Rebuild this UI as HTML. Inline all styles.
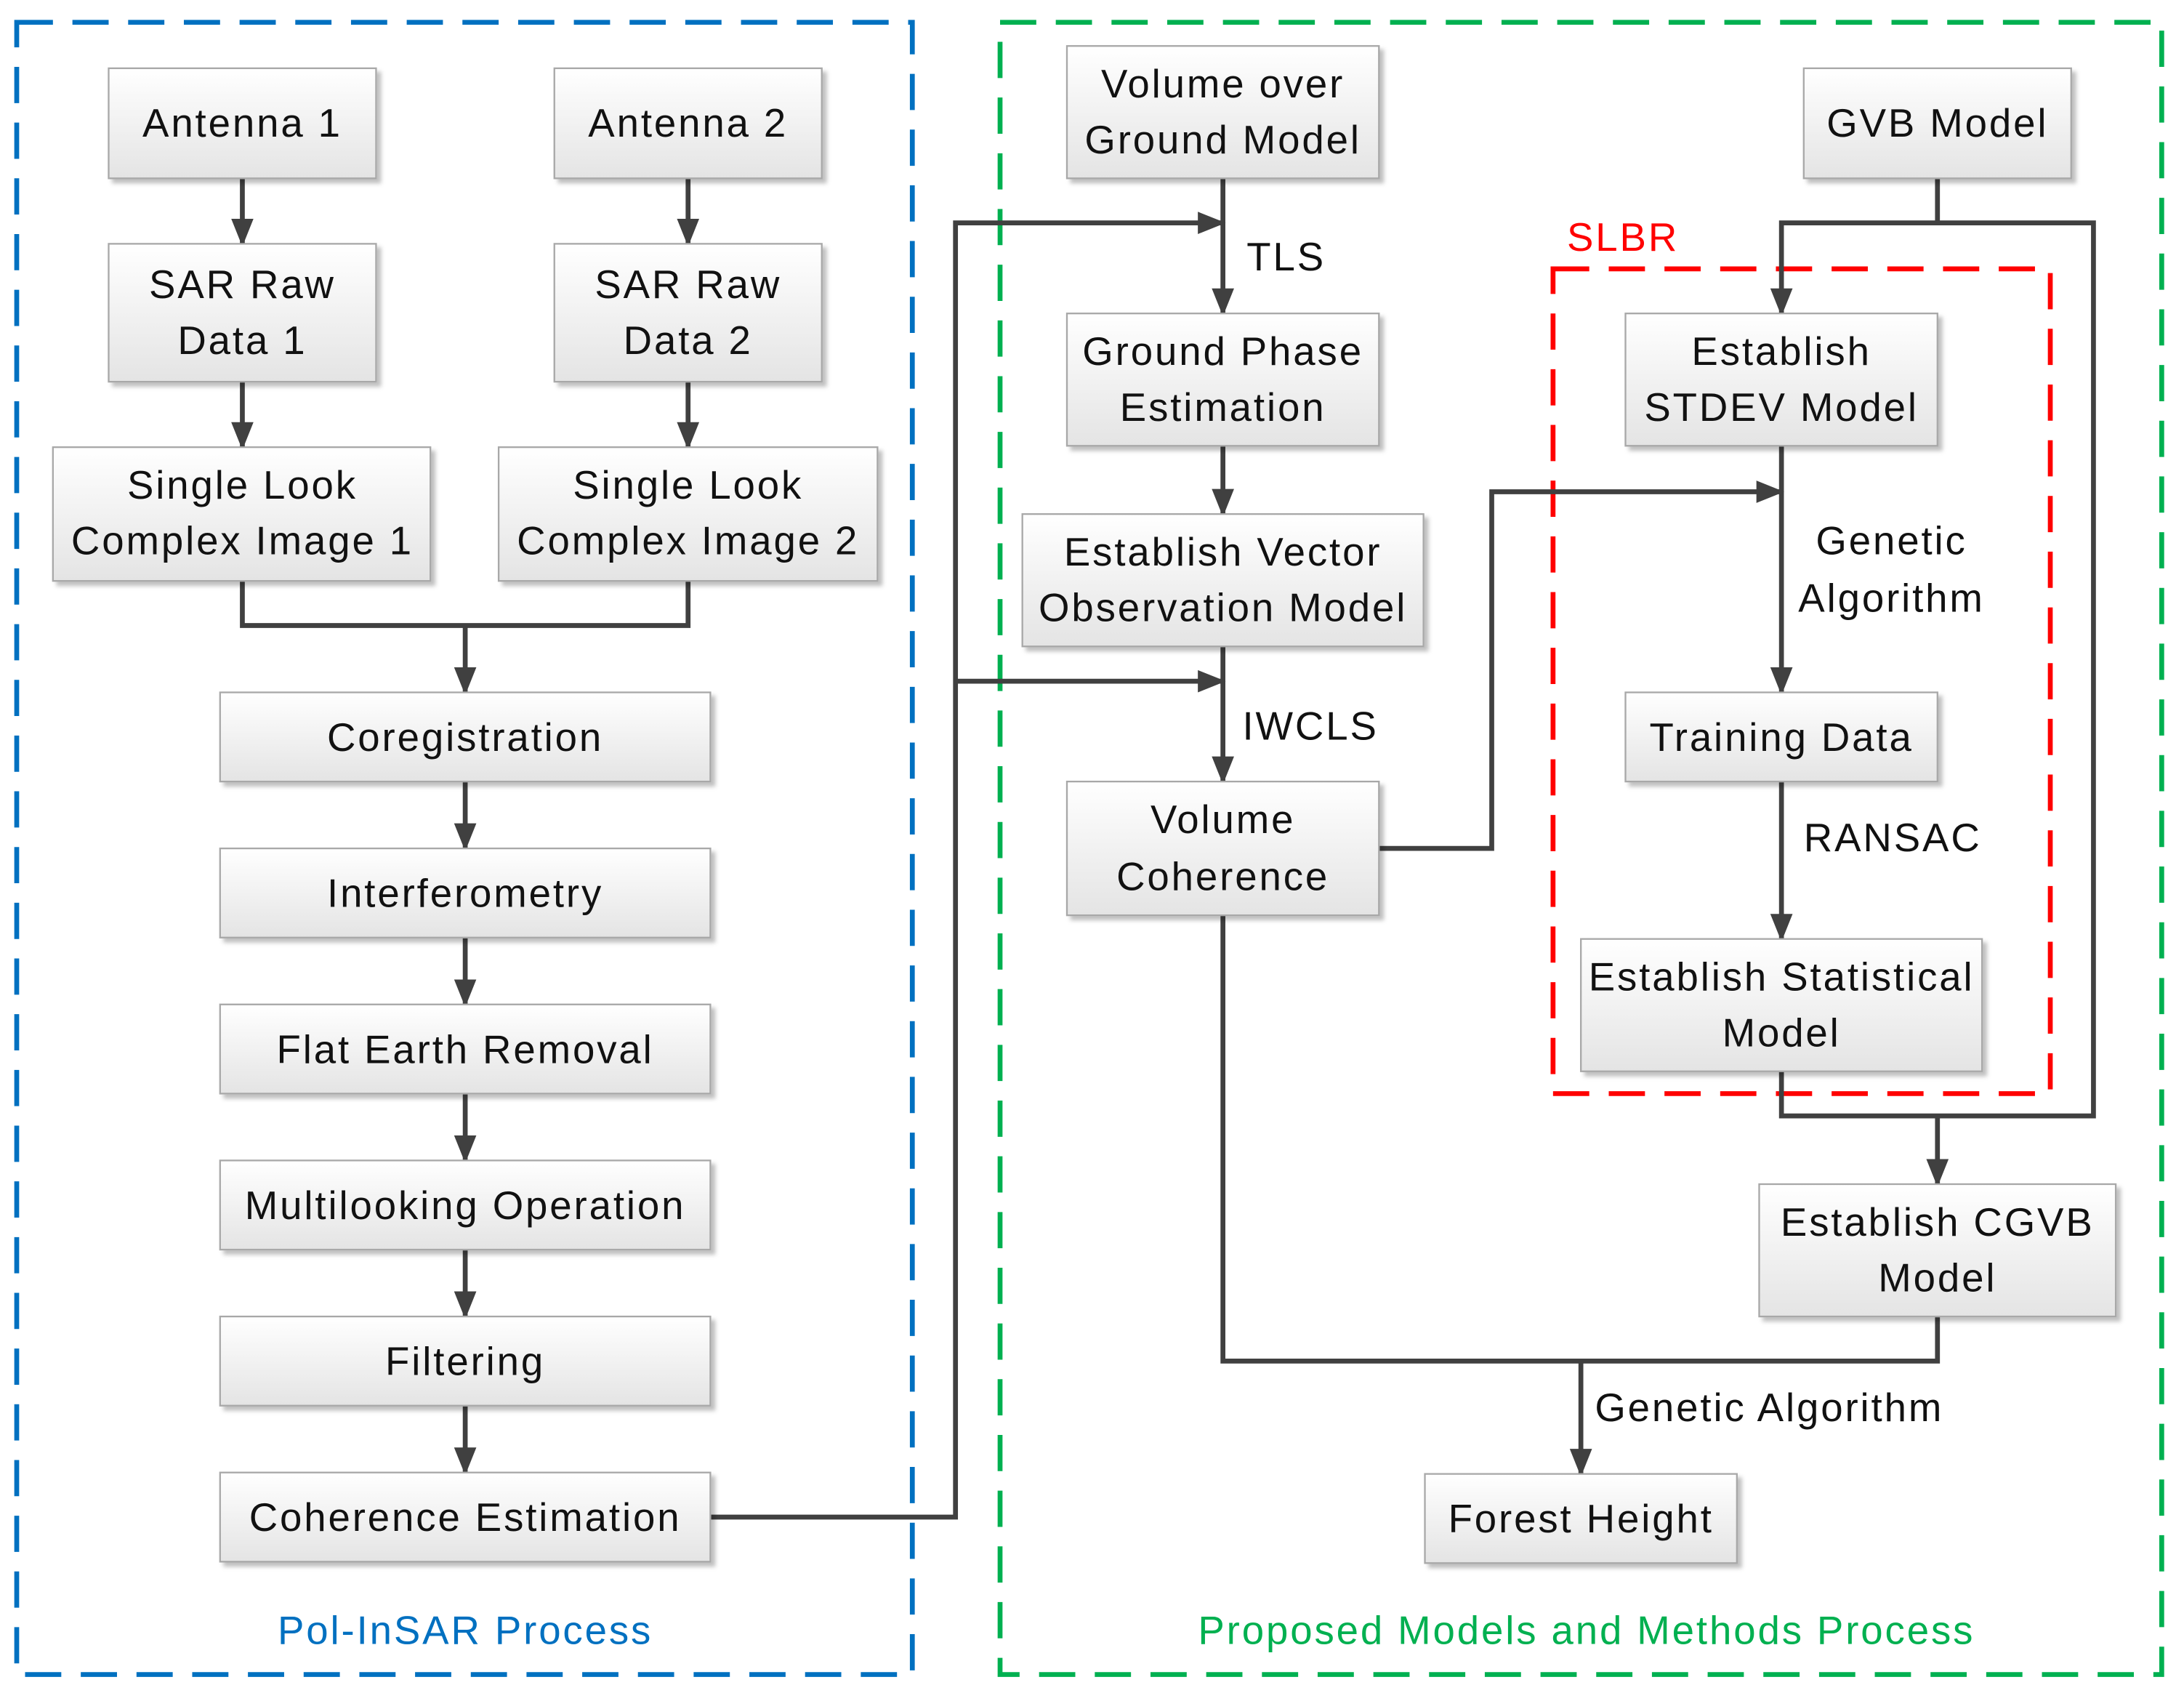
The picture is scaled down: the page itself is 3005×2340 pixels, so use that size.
<!DOCTYPE html>
<html><head><meta charset="utf-8"><style>
html,body{margin:0;padding:0;background:#fff}
svg{display:block}
text{font-family:"Liberation Sans",sans-serif;font-size:28.5px;letter-spacing:1.5px;fill:#111}
</style></head><body>
<svg width="3005" height="2340" viewBox="0 0 1568 1221" xmlns="http://www.w3.org/2000/svg">
<defs>
<linearGradient id="g" x1="0" y1="0" x2="0" y2="1"><stop offset="0" stop-color="#ffffff"/><stop offset="1" stop-color="#e4e4e4"/></linearGradient>
<filter id="s" x="-10%" y="-10%" width="130%" height="130%"><feDropShadow dx="3" dy="3" stdDeviation="1.5" flood-color="#000" flood-opacity="0.25"/></filter>
<marker id="A" markerWidth="20" markerHeight="20" refX="18" refY="10" orient="auto" markerUnits="userSpaceOnUse"><path d="M0,2 L20,10 L0,18 z" fill="#404040"/></marker>
</defs>
<rect x="12" y="16" width="643" height="1186" fill="none" stroke="#0070c0" stroke-width="3.5" stroke-dasharray="26,14"/>
<rect x="718" y="16" width="834" height="1186" fill="none" stroke="#00b050" stroke-width="3.5" stroke-dasharray="26,14"/>
<rect x="1115" y="193" width="357" height="592" fill="none" stroke="#ff0000" stroke-width="3.5" stroke-dasharray="26,14"/>
<text x="1125" y="180" style="fill:#ff0000">SLBR</text>
<text x="334" y="1180" text-anchor="middle" style="fill:#0070c0">Pol-InSAR Process</text>
<text x="1139" y="1180" text-anchor="middle" style="fill:#00b050">Proposed Models and Methods Process</text>

<g stroke="#404040" stroke-width="3.5" fill="none">
<path d="M174,128 V175" marker-end="url(#A)"/>
<path d="M494,128 V175" marker-end="url(#A)"/>
<path d="M174,274 V321" marker-end="url(#A)"/>
<path d="M494,274 V321" marker-end="url(#A)"/>
<path d="M174,417 V449 H494 V417"/>
<path d="M334,449 V497" marker-end="url(#A)"/>
<path d="M334,561 V609" marker-end="url(#A)"/>
<path d="M334,673 V721" marker-end="url(#A)"/>
<path d="M334,785 V833" marker-end="url(#A)"/>
<path d="M334,897 V945" marker-end="url(#A)"/>
<path d="M334,1009 V1057" marker-end="url(#A)"/>
<path d="M510,1089 H686 V160 H878" marker-end="url(#A)"/>
<path d="M686,489 H878" marker-end="url(#A)"/>
<path d="M878,128 V225" marker-end="url(#A)"/>
<path d="M878,320 V369" marker-end="url(#A)"/>
<path d="M878,464 V561" marker-end="url(#A)"/>
<path d="M990,609 H1071 V353 H1279" marker-end="url(#A)"/>
<path d="M1279,320 V497" marker-end="url(#A)"/>
<path d="M1279,561 V674" marker-end="url(#A)"/>
<path d="M1391,128 V160 H1279 V225" marker-end="url(#A)"/>
<path d="M1391,160 H1503 V801 H1279 V769"/>
<path d="M1391,801 V850" marker-end="url(#A)"/>
<path d="M878,657 V977 H1391 V945"/>
<path d="M1135,977 V1058" marker-end="url(#A)"/>
</g>
<text x="895" y="194">TLS</text>
<text x="892" y="531">IWCLS</text>
<text x="1358" y="398" text-anchor="middle">Genetic</text>
<text x="1358" y="439" text-anchor="middle">Algorithm</text>
<text x="1295" y="611">RANSAC</text>
<text x="1145" y="1020">Genetic Algorithm</text>

<g fill="url(#g)" stroke="#a8a8a8" stroke-width="1.2" filter="url(#s)">
<rect x="78" y="49" width="192" height="79"/>
<rect x="398" y="49" width="192" height="79"/>
<rect x="78" y="175" width="192" height="99"/>
<rect x="398" y="175" width="192" height="99"/>
<rect x="38" y="321" width="271" height="96"/>
<rect x="358" y="321" width="272" height="96"/>
<rect x="158" y="497" width="352" height="64"/>
<rect x="158" y="609" width="352" height="64"/>
<rect x="158" y="721" width="352" height="64"/>
<rect x="158" y="833" width="352" height="64"/>
<rect x="158" y="945" width="352" height="64"/>
<rect x="158" y="1057" width="352" height="64"/>
<rect x="766" y="33" width="224" height="95"/>
<rect x="766" y="225" width="224" height="95"/>
<rect x="734" y="369" width="288" height="95"/>
<rect x="766" y="561" width="224" height="96"/>
<rect x="1295" y="49" width="192" height="79"/>
<rect x="1167" y="225" width="224" height="95"/>
<rect x="1167" y="497" width="224" height="64"/>
<rect x="1135" y="674" width="288" height="95"/>
<rect x="1263" y="850" width="256" height="95"/>
<rect x="1023" y="1058" width="224" height="64"/>
</g>
<g text-anchor="middle">
<text x="174" y="98">Antenna 1</text>
<text x="494" y="98">Antenna 2</text>
<text x="174" y="214">SAR Raw</text><text x="174" y="254">Data 1</text>
<text x="494" y="214">SAR Raw</text><text x="494" y="254">Data 2</text>
<text x="174" y="358">Single Look</text><text x="174" y="398">Complex Image 1</text>
<text x="494" y="358">Single Look</text><text x="494" y="398">Complex Image 2</text>
<text x="334" y="539">Coregistration</text>
<text x="334" y="651">Interferometry</text>
<text x="334" y="763">Flat Earth Removal</text>
<text x="334" y="875">Multilooking Operation</text>
<text x="334" y="987">Filtering</text>
<text x="334" y="1099">Coherence Estimation</text>
<text x="878" y="70">Volume over</text><text x="878" y="110">Ground Model</text>
<text x="878" y="262">Ground Phase</text><text x="878" y="302">Estimation</text>
<text x="878" y="406">Establish Vector</text><text x="878" y="446">Observation Model</text>
<text x="878" y="598">Volume</text><text x="878" y="639">Coherence</text>
<text x="1391" y="98">GVB Model</text>
<text x="1279" y="262">Establish</text><text x="1279" y="302">STDEV Model</text>
<text x="1279" y="539">Training Data</text>
<text x="1279" y="711">Establish Statistical</text><text x="1279" y="751">Model</text>
<text x="1391" y="887">Establish CGVB</text><text x="1391" y="927">Model</text>
<text x="1135" y="1100">Forest Height</text>
</g>
</svg>
</body></html>
